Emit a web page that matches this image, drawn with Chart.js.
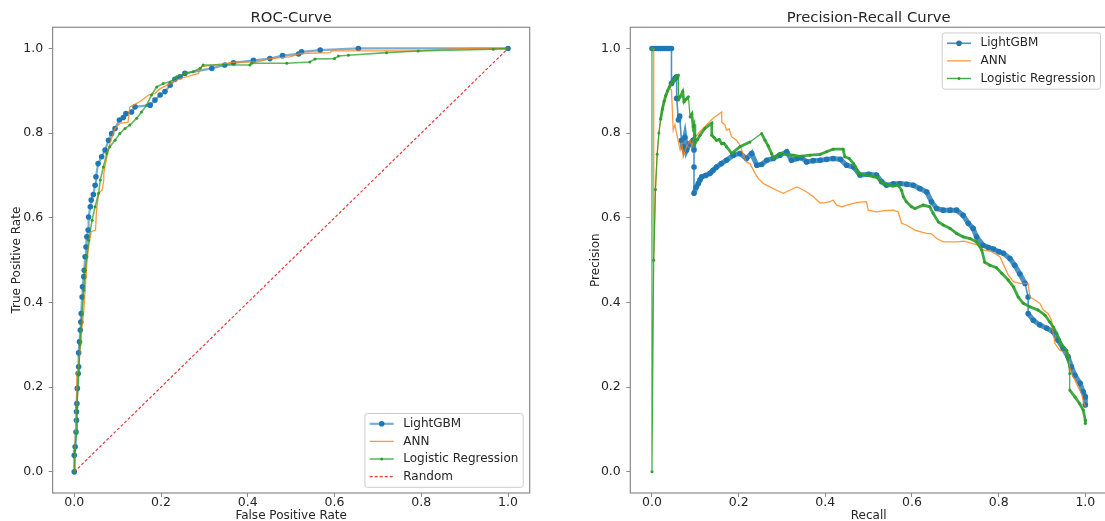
<!DOCTYPE html>
<html>
<head>
<meta charset="utf-8">
<script src="https://cdn.jsdelivr.net/npm/chart.js@4.4.1/dist/chart.umd.min.js"></script>
<style>
  html, body { margin: 0; padding: 0; background: #fff; width: 1105px; height: 521px; overflow: hidden; }
  #roc { position: absolute; left: 0; top: 0; }
  #pr { position: absolute; left: 575px; top: 0; }
</style>
</head>
<body>
<canvas id="roc" width="575" height="521" style="width:575px;height:521px"></canvas>
<canvas id="pr" width="560" height="521" style="width:560px;height:521px"></canvas>
<script>
// tick labels (same on both axes of both plots)
const tickValues = [0, 0.2, 0.4, 0.6, 0.8, 1.0];

// ROC curves, [false positive rate, true positive rate]
const lgbmRoc = [[0,0],[0,0.039],[0.002,0.059],[0.004,0.094],[0.005,0.122],[0.005,0.142],[0.006,0.161],[0.007,0.197],
  [0.009,0.232],[0.010,0.248],[0.010,0.281],[0.012,0.307],[0.014,0.335],[0.015,0.354],[0.016,0.374],[0.018,0.413],
  [0.019,0.437],[0.022,0.461],[0.023,0.476],[0.025,0.508],[0.027,0.531],[0.029,0.555],[0.032,0.571],[0.033,0.602],
  [0.037,0.626],[0.039,0.642],[0.044,0.655],[0.048,0.677],[0.050,0.697],[0.055,0.728],[0.063,0.744],[0.071,0.760],
  [0.079,0.783],[0.086,0.799],[0.094,0.811],[0.104,0.831],[0.113,0.837],[0.119,0.846],[0.132,0.850],[0.140,0.862],
  [0.175,0.866],[0.186,0.878],[0.198,0.890],[0.209,0.898],[0.221,0.913],[0.232,0.927],[0.244,0.933],[0.255,0.941],
  [0.317,0.953],[0.347,0.961],[0.367,0.966],[0.413,0.972],[0.451,0.976],[0.480,0.983],[0.517,0.987],[0.524,0.992],
  [0.567,0.996],[0.655,1.0],[1.0,1.0]];
const annRoc = [[0,0],[0.002,0.06],[0.004,0.15],[0.006,0.23],[0.010,0.248],[0.014,0.295],[0.018,0.342],[0.022,0.382],
  [0.024,0.413],[0.027,0.461],[0.029,0.492],[0.033,0.531],[0.039,0.567],[0.049,0.571],[0.051,0.614],[0.056,0.658],
  [0.064,0.665],[0.068,0.689],[0.068,0.705],[0.075,0.744],[0.082,0.776],[0.094,0.811],[0.105,0.823],[0.124,0.826],
  [0.128,0.862],[0.136,0.866],[0.151,0.874],[0.171,0.890],[0.186,0.894],[0.198,0.905],[0.221,0.917],[0.244,0.929],
  [0.267,0.935],[0.286,0.941],[0.294,0.957],[0.374,0.968],[0.420,0.968],[0.451,0.976],[0.497,0.980],[0.520,0.988],
  [0.590,0.990],[0.593,0.994],[0.793,0.994],[0.847,0.998],[0.916,1.0],[1,1]];
const lrRoc = [[0,0],[0.001,0.05],[0.005,0.091],[0.006,0.152],[0.010,0.232],[0.013,0.300],[0.018,0.374],[0.022,0.429],
  [0.025,0.476],[0.029,0.508],[0.033,0.547],[0.041,0.594],[0.048,0.626],[0.056,0.658],[0.060,0.689],[0.067,0.720],
  [0.075,0.752],[0.082,0.768],[0.094,0.783],[0.105,0.799],[0.117,0.811],[0.128,0.819],[0.144,0.835],[0.155,0.850],
  [0.167,0.866],[0.178,0.890],[0.190,0.909],[0.205,0.917],[0.221,0.921],[0.236,0.933],[0.255,0.941],[0.274,0.945],
  [0.290,0.953],[0.297,0.961],[0.405,0.961],[0.409,0.965],[0.490,0.965],[0.543,0.968],[0.555,0.975],[0.600,0.976],
  [0.609,0.982],[0.632,0.984],[0.720,0.990],[0.793,0.994],[0.966,0.998],[1,1]];
const randomRoc = [[0,0],[1,1]];

// precision-recall curves, [recall, precision]
const lgbmPr = [[0,1],[0.005,1],[0.01,1],[0.015,1],[0.02,1],[0.025,1],[0.03,1],[0.035,1],[0.04,1],[0.045,1],
  [0.045,0.917],[0.053,0.929],[0.057,0.933],[0.057,0.882],[0.061,0.831],[0.064,0.84],[0.068,0.783],[0.072,0.768],
  [0.076,0.79],[0.080,0.760],[0.087,0.775],[0.095,0.783],[0.097,0.760],[0.097,0.72],[0.097,0.658],[0.102,0.672],
  [0.107,0.681],[0.111,0.69],[0.115,0.697],[0.124,0.70],[0.134,0.705],[0.141,0.712],[0.149,0.720],[0.160,0.728],
  [0.172,0.736],[0.188,0.748],[0.203,0.752],[0.218,0.740],[0.230,0.752],[0.242,0.724],[0.253,0.726],[0.265,0.736],
  [0.280,0.74],[0.295,0.748],[0.311,0.756],[0.322,0.736],[0.335,0.74],[0.345,0.742],[0.357,0.732],[0.372,0.735],
  [0.388,0.736],[0.403,0.738],[0.418,0.740],[0.435,0.738],[0.449,0.724],[0.465,0.720],[0.480,0.701],[0.50,0.703],
  [0.518,0.701],[0.530,0.685],[0.541,0.677],[0.557,0.680],[0.572,0.681],[0.588,0.679],[0.603,0.677],[0.618,0.669],
  [0.634,0.661],[0.645,0.638],[0.657,0.622],[0.672,0.618],[0.688,0.618],[0.703,0.618],[0.718,0.606],[0.730,0.587],
  [0.741,0.575],[0.749,0.555],[0.764,0.535],[0.776,0.53],[0.788,0.526],[0.800,0.52],[0.811,0.516],[0.826,0.504],
  [0.837,0.488],[0.849,0.467],[0.861,0.445],[0.868,0.413],[0.868,0.374],[0.880,0.358],[0.895,0.347],[0.911,0.339],
  [0.926,0.331],[0.937,0.311],[0.949,0.291],[0.960,0.272],[0.968,0.248],[0.976,0.228],[0.988,0.209],[0.995,0.189],
  [1.0,0.177],[1.0,0.158]];
const annPr = [[0,1],[0.004,1],[0.004,0.5],[0.008,0.667],[0.012,0.75],[0.016,0.80],[0.020,0.833],[0.025,0.857],
  [0.029,0.875],[0.033,0.889],[0.037,0.90],[0.041,0.905],[0.045,0.902],[0.049,0.807],[0.053,0.82],[0.057,0.799],
  [0.061,0.78],[0.065,0.760],[0.069,0.775],[0.072,0.744],[0.080,0.768],[0.088,0.783],[0.092,0.77],[0.096,0.785],
  [0.107,0.799],[0.126,0.819],[0.141,0.835],[0.161,0.850],[0.161,0.826],[0.168,0.82],[0.172,0.807],[0.178,0.81],
  [0.184,0.791],[0.195,0.783],[0.203,0.772],[0.211,0.748],[0.218,0.732],[0.226,0.728],[0.238,0.705],[0.245,0.693],
  [0.257,0.681],[0.272,0.673],[0.288,0.665],[0.303,0.658],[0.318,0.665],[0.334,0.673],[0.345,0.668],[0.357,0.661],
  [0.372,0.650],[0.388,0.635],[0.40,0.636],[0.411,0.638],[0.418,0.642],[0.426,0.630],[0.438,0.626],[0.45,0.63],
  [0.465,0.634],[0.48,0.637],[0.495,0.638],[0.499,0.618],[0.518,0.614],[0.537,0.617],[0.557,0.618],[0.568,0.614],
  [0.576,0.587],[0.587,0.583],[0.607,0.571],[0.62,0.567],[0.634,0.563],[0.645,0.562],[0.657,0.551],[0.672,0.543],
  [0.703,0.543],[0.72,0.545],[0.741,0.539],[0.753,0.535],[0.764,0.524],[0.784,0.520],[0.803,0.508],[0.811,0.49],
  [0.822,0.465],[0.834,0.449],[0.849,0.445],[0.868,0.445],[0.872,0.413],[0.884,0.406],[0.895,0.398],[0.903,0.382],
  [0.914,0.374],[0.922,0.358],[0.926,0.327],[0.930,0.303],[0.941,0.287],[0.953,0.283],[0.960,0.280],[0.964,0.248],
  [0.968,0.232],[0.976,0.217],[0.983,0.201],[0.991,0.185],[0.996,0.165],[1.0,0.154]];
const lrPr = [[0,1],[0,0],[0.004,0.5],[0.008,0.667],[0.012,0.75],[0.016,0.80],[0.020,0.833],[0.024,0.857],
  [0.028,0.875],[0.032,0.889],[0.036,0.90],[0.040,0.909],[0.045,0.917],[0.049,0.923],[0.053,0.929],[0.057,0.933],
  [0.061,0.937],[0.061,0.878],[0.065,0.886],[0.071,0.898],[0.074,0.874],[0.079,0.88],[0.084,0.886],[0.088,0.838],
  [0.092,0.845],[0.095,0.815],[0.097,0.82],[0.099,0.795],[0.099,0.775],[0.105,0.785],[0.111,0.795],[0.122,0.811],
  [0.138,0.823],[0.138,0.795],[0.143,0.79],[0.149,0.783],[0.155,0.785],[0.161,0.775],[0.166,0.776],[0.172,0.768],
  [0.184,0.752],[0.203,0.768],[0.226,0.779],[0.253,0.799],[0.261,0.783],[0.268,0.77],[0.276,0.752],[0.280,0.740],
  [0.295,0.752],[0.31,0.75],[0.326,0.748],[0.341,0.745],[0.365,0.748],[0.388,0.75],[0.403,0.756],[0.418,0.762],
  [0.441,0.762],[0.445,0.744],[0.455,0.74],[0.465,0.728],[0.47,0.72],[0.476,0.705],[0.495,0.701],[0.511,0.697],
  [0.52,0.695],[0.534,0.681],[0.545,0.677],[0.556,0.675],[0.568,0.677],[0.576,0.665],[0.580,0.650],[0.587,0.638],
  [0.599,0.626],[0.607,0.622],[0.626,0.630],[0.641,0.626],[0.649,0.610],[0.661,0.590],[0.672,0.583],[0.688,0.575],
  [0.703,0.563],[0.718,0.555],[0.734,0.551],[0.749,0.543],[0.761,0.524],[0.768,0.495],[0.780,0.488],[0.795,0.482],
  [0.807,0.469],[0.822,0.453],[0.834,0.437],[0.845,0.413],[0.857,0.398],[0.872,0.390],[0.891,0.382],[0.907,0.370],
  [0.918,0.354],[0.926,0.342],[0.934,0.327],[0.945,0.299],[0.957,0.287],[0.960,0.264],[0.964,0.232],[0.964,0.193],
  [0.976,0.177],[0.987,0.161],[0.995,0.146],[1.0,0.122],[1.0,0.114]];

const blue = '#1f77b4', orange = '#ff7f0e', green = '#2ca02c', red = '#e8383d';
const spineColor = '#8a8a8a';
const textColor = '#262626';

Chart.defaults.font.family = "'DejaVu Sans', sans-serif";
Chart.defaults.color = textColor;

const toXY = pts => pts.map(p => ({ x: p[0], y: p[1] }));

// thick where the points are packed close together, thin on long jumps
const denseWidth = (thick, thin) => ctx =>
  Math.hypot(ctx.p1.x - ctx.p0.x, ctx.p1.y - ctx.p0.y) > 13 ? thin : thick;

// four spines like matplotlib
const frame = {
  id: 'frame',
  afterDatasetsDraw(chart) {
    const { ctx, chartArea: a } = chart;
    ctx.save();
    ctx.strokeStyle = spineColor;
    ctx.lineWidth = 1.2;
    ctx.strokeRect(a.left, a.top, a.right - a.left, a.bottom - a.top);
    ctx.restore();
  }
};

// legend drawn inside the plot area
const boxLegend = {
  id: 'boxLegend',
  afterDraw(chart, args, opts) {
    const { ctx, chartArea: a } = chart;
    const items = chart.data.datasets;
    ctx.save();
    ctx.font = "12px 'DejaVu Sans'";
    const textW = Math.max(...items.map(d => ctx.measureText(d.label).width));
    const w = 4.8 + 24 + 9.6 + textW + 4.8;
    const h = 21 + 17.6 * (items.length - 1);
    const x = a.right - 6.5 - w;
    const y = opts.corner === 'top' ? a.top + 5.7 : a.bottom - 5.7 - h;
    ctx.beginPath();
    if (ctx.roundRect) ctx.roundRect(x, y, w, h, 2.5); else ctx.rect(x, y, w, h);
    ctx.fillStyle = 'rgba(255,255,255,0.8)';
    ctx.fill();
    ctx.strokeStyle = '#cccccc';
    ctx.lineWidth = 1;
    ctx.stroke();
    items.forEach((d, i) => {
      const cy = y + 10.3 + i * 17.6;
      const x0 = x + 4.8;
      ctx.beginPath();
      ctx.setLineDash(d.borderDash || []);
      ctx.strokeStyle = d.borderColor;
      ctx.lineWidth = d.borderWidth;
      ctx.moveTo(x0, cy);
      ctx.lineTo(x0 + 24, cy);
      ctx.stroke();
      ctx.setLineDash([]);
      if (d.pointRadius > 0) {
        ctx.beginPath();
        ctx.arc(x0 + 12, cy, d.pointRadius, 0, Math.PI * 2);
        ctx.fillStyle = d.pointBackgroundColor;
        ctx.fill();
      }
      ctx.fillStyle = textColor;
      ctx.textBaseline = 'middle';
      ctx.fillText(d.label, x0 + 33.6, cy);
    });
    ctx.restore();
  }
};

function makeScales(xTitle, yTitle, yWidth) {
  const common = {
    type: 'linear', min: -0.05, max: 1.05,
    afterBuildTicks: s => { s.ticks = tickValues.map(v => ({ value: v })); },
    grid: { drawOnChartArea: false, drawTicks: true, tickLength: 4, color: spineColor },
    border: { display: false }
  };
  return {
    x: Object.assign({}, common, {
      afterFit: s => { s.height = 28; },
      ticks: { padding: -1.7, font: { size: 12.5 }, maxRotation: 0, autoSkip: false, callback: v => v.toFixed(1) },
      title: { display: true, text: xTitle, font: { size: 12 }, padding: { top: 0, bottom: -1.7 } }
    }),
    y: Object.assign({}, common, {
      afterFit: s => { s.width = yWidth; },
      ticks: { padding: 5.5, font: { size: 12.5 }, autoSkip: false, callback: v => v.toFixed(1) },
      title: { display: true, text: yTitle, font: { size: 12 }, padding: 0 }
    })
  };
}

function makeOptions(title, xTitle, yTitle, padLeft, padRight, yWidth, corner) {
  return {
    responsive: false,
    animation: false,
    layout: { padding: { left: padLeft, right: padRight, top: 0, bottom: 0 } },
    plugins: {
      legend: { display: false },
      tooltip: { enabled: false },
      title: { display: true, text: title, fullSize: false, font: { size: 14.8, weight: 'normal' },
               color: textColor, padding: { top: 9.5, bottom: 0 } },
      boxLegend: { corner: corner }
    },
    scales: makeScales(xTitle, yTitle, yWidth)
  };
}

// ROC-Curve
new Chart(document.getElementById('roc'), {
  type: 'line',
  data: {
    datasets: [
      { label: 'LightGBM', data: toXY(lgbmRoc), borderColor: 'rgba(31,119,180,0.6)', borderWidth: 2.2,
        pointRadius: 2.8, pointBorderWidth: 0, pointBackgroundColor: blue, order: 3 },
      { label: 'ANN', data: toXY(annRoc), borderColor: 'rgba(255,127,14,0.8)', borderWidth: 1.3,
        pointRadius: 0, order: 2 },
      { label: 'Logistic Regression', data: toXY(lrRoc), borderColor: 'rgba(44,160,44,0.75)', borderWidth: 1.6,
        pointRadius: 1.5, pointBorderWidth: 0, pointBackgroundColor: green, order: 1 },
      { label: 'Random', data: toXY(randomRoc), borderColor: red, borderWidth: 1.2, borderDash: [3, 2],
        pointRadius: 0, order: 0 }
    ]
  },
  options: makeOptions('ROC-Curve', 'False Positive Rate', 'True Positive Rate', 9.8, 45.3, 42.8, 'bottom'),
  plugins: [frame, boxLegend]
});

// Precision-Recall Curve
new Chart(document.getElementById('pr'), {
  type: 'line',
  data: {
    datasets: [
      { label: 'LightGBM', data: toXY(lgbmPr), borderColor: 'rgba(31,119,180,0.8)', borderWidth: 1.6,
        segment: { borderWidth: denseWidth(5, 1.6) },
        pointRadius: 2.8, pointBorderWidth: 0, pointBackgroundColor: blue, order: 3 },
      { label: 'ANN', data: toXY(annPr), borderColor: 'rgba(255,127,14,0.8)', borderWidth: 1.3,
        pointRadius: 0, order: 2 },
      { label: 'Logistic Regression', data: toXY(lrPr), borderColor: 'rgba(44,160,44,0.9)', borderWidth: 1.3,
        segment: { borderWidth: denseWidth(2.8, 1.2) },
        pointRadius: 1.5, pointBorderWidth: 0, pointBackgroundColor: green, order: 1 }
    ]
  },
  options: makeOptions('Precision-Recall Curve', 'Recall', 'Precision', 13.5, 28, 41.8, 'top'),
  plugins: [frame, boxLegend]
});
</script>
</body>
</html>
